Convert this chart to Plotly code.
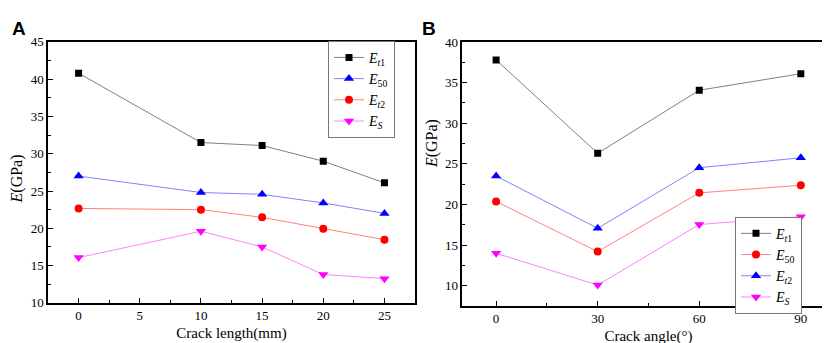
import plotly.graph_objects as go

# Panel A data
crack_length = [0, 10, 15, 20, 25]
A_Et1 = [40.8, 31.5, 31.1, 29.0, 26.1]
A_E50 = [27.0, 24.8, 24.55, 23.4, 22.0]
A_Et2 = [22.66, 22.5, 21.47, 19.93, 18.47]
A_ES = [16.07, 19.6, 17.5, 13.8, 13.25]

# Panel B data
crack_angle = [0, 30, 60, 90]
B_Et1 = [37.8, 26.3, 34.07, 36.1]
B_E50 = [20.37, 14.2, 21.43, 22.37]
B_Et2 = [23.5, 17.07, 24.53, 25.75]
B_ES = [14.0, 10.08, 17.54, 18.5]

names = {
    "Et1": "<i>E</i><sub><i>t</i>1</sub>",
    "E50": "<i>E</i><sub>50</sub>",
    "Et2": "<i>E</i><sub><i>t</i>2</sub>",
    "ES": "<i>E</i><sub><i>S</i></sub>",
}

FONT = "Liberation Serif"
fig = go.Figure()

def add(x, y, name, mcolor, lcolor, symbol, xa, ya, legend, size=9):
    fig.add_trace(go.Scatter(
        x=x, y=y, name=name, mode="lines+markers",
        line=dict(color=lcolor, width=1),
        marker=dict(color=mcolor, symbol=symbol, size=size),
        xaxis=xa, yaxis=ya, legend=legend,
    ))

add(crack_length, A_Et1, names["Et1"], "black", "#808080", "square", "x", "y", "legend", 7)
add(crack_length, A_E50, names["E50"], "blue", "#8080ff", "triangle-up", "x", "y", "legend")
add(crack_length, A_Et2, names["Et2"], "red", "#ff8080", "circle", "x", "y", "legend", 8)
add(crack_length, A_ES, names["ES"], "magenta", "#ff80ff", "triangle-down", "x", "y", "legend")

add(crack_angle, B_Et1, names["Et1"], "black", "#808080", "square", "x2", "y2", "legend2", 7)
add(crack_angle, B_E50, names["E50"], "red", "#ff8080", "circle", "x2", "y2", "legend2", 8)
add(crack_angle, B_Et2, names["Et2"], "blue", "#8080ff", "triangle-up", "x2", "y2", "legend2")
add(crack_angle, B_ES, names["ES"], "magenta", "#ff80ff", "triangle-down", "x2", "y2", "legend2")

axcommon = dict(
    showline=True, linecolor="black", linewidth=1.5, mirror=True,
    ticks="inside", ticklen=5, tickcolor="black", tickwidth=1.2,
    showgrid=False, zeroline=False,
    tickfont=dict(family=FONT, size=13, color="black"),
    minor=dict(ticks="inside", ticklen=3, tickcolor="black", showgrid=False),
)

fig.update_layout(
    width=830, height=343,
    margin=dict(l=0, r=0, t=0, b=0),
    paper_bgcolor="white", plot_bgcolor="white",
    font=dict(family=FONT, color="black"),
    xaxis=dict(domain=[0.0482, 0.4904], range=[-2.5, 27.5], tickvals=[0, 5, 10, 15, 20, 25],
               minor_dtick=2.5, anchor="y",
               title=dict(text="Crack length(mm)", font=dict(family=FONT, size=15), standoff=5), **axcommon),
    yaxis=dict(domain=[0.1224, 0.918], range=[10, 45], dtick=5, minor_dtick=2.5, anchor="x", **axcommon),
    xaxis2=dict(domain=[0.5473, 0.996], range=[-10, 100], tickvals=[0, 30, 60, 90],
                minor_dtick=15, anchor="y2",
                title=dict(text="Crack angle(°)", font=dict(family=FONT, size=15), standoff=5), **axcommon),
    yaxis2=dict(domain=[0.1128, 0.9175], range=[7.5, 40], tickvals=[10, 15, 20, 25, 30, 35, 40],
                minor_dtick=2.5, anchor="x2", **axcommon),
    legend=dict(x=320/830, y=1 - 27/343, xanchor="left", yanchor="top",
                bordercolor="#777777", borderwidth=1, bgcolor="white",
                font=dict(family=FONT, size=14), itemwidth=30, tracegroupgap=0,
                entrywidth=75, entrywidthmode="pixels"),
    legend2=dict(x=727/830, y=1 - 211/343, xanchor="left", yanchor="top",
                 bordercolor="#777777", borderwidth=1, bgcolor="white",
                 font=dict(family=FONT, size=14), itemwidth=30, tracegroupgap=0),
    annotations=[
        dict(text="<b>A</b>", x=2/830, y=1 - 1/343, xref="paper", yref="paper",
             xanchor="left", yanchor="top", showarrow=False,
             font=dict(family="Liberation Sans", size=19, color="black")),
        dict(text="<b>B</b>", x=412/830, y=1 - 1/343, xref="paper", yref="paper",
             xanchor="left", yanchor="top", showarrow=False,
             font=dict(family="Liberation Sans", size=19, color="black")),
        dict(text="<i>E</i>(GPa)", x=9/830, y=1 - 172/343, xref="paper", yref="paper",
             xanchor="center", yanchor="middle", showarrow=False, textangle=-90,
             font=dict(family=FONT, size=16, color="black")),
        dict(text="<i>E</i>(GPa)", x=424/830, y=1 - 135/343, xref="paper", yref="paper",
             xanchor="center", yanchor="middle", showarrow=False, textangle=-90,
             font=dict(family=FONT, size=16, color="black")),
    ],
)

fig.write_html("out.html")
